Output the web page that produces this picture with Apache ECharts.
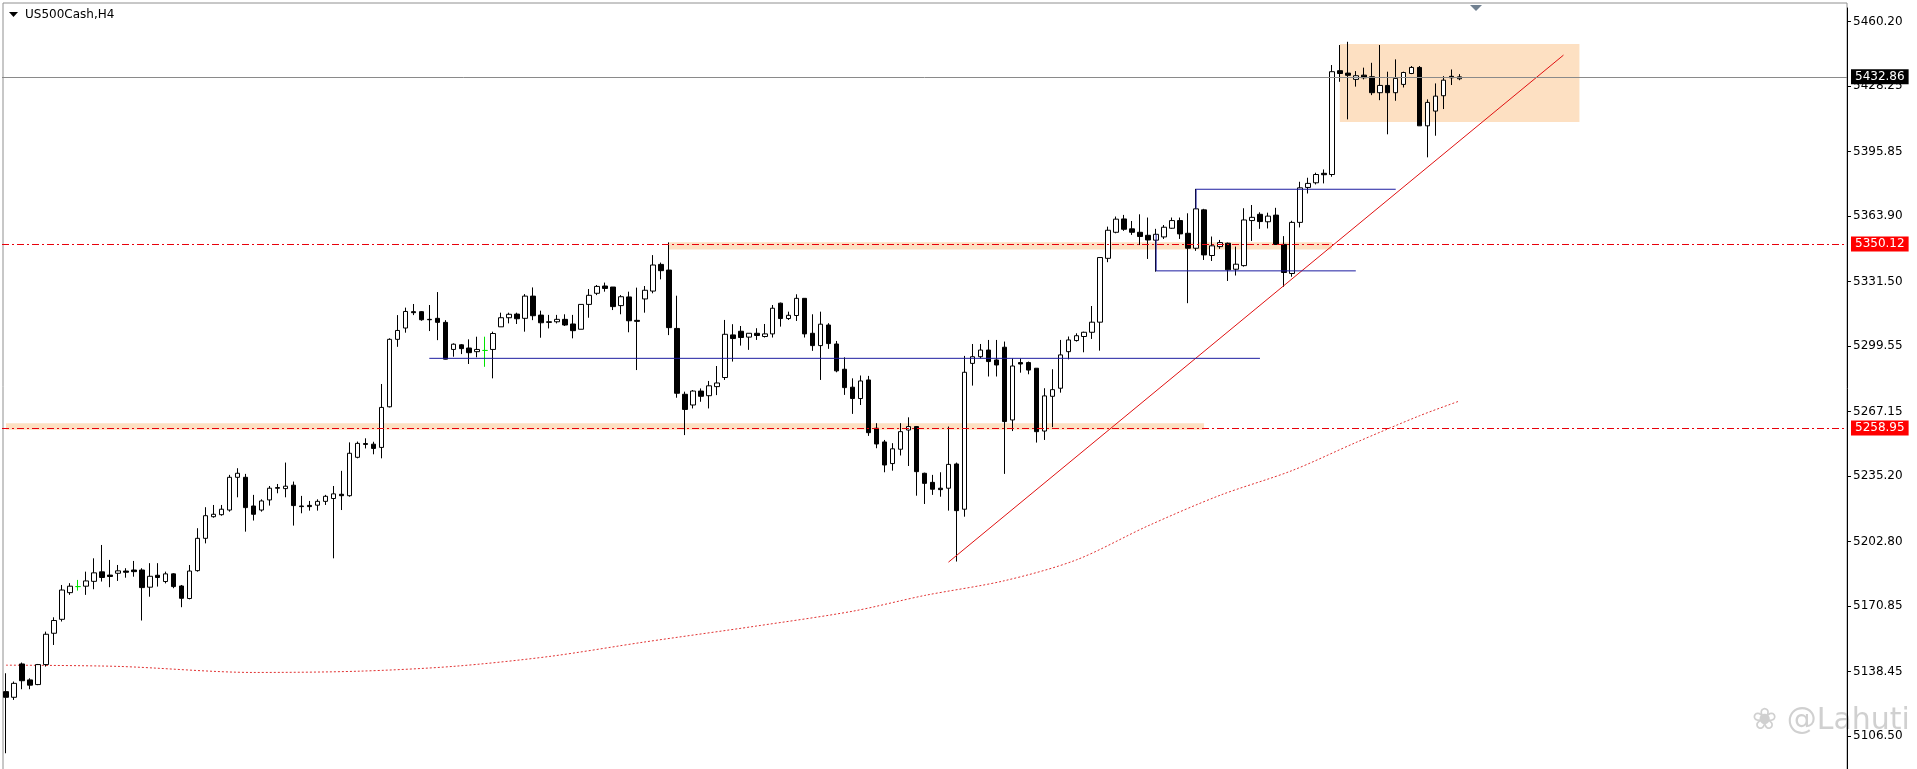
<!DOCTYPE html>
<html>
<head>
<meta charset="utf-8">
<script src="https://cdn.jsdelivr.net/npm/echarts@6/dist/echarts.min.js"></script>
<style>
  html, body { margin: 0; padding: 0; background: #fff; }
  #chart { width: 1917px; height: 769px; }
</style>
</head>
<body>
<div id="chart"></div>
<script>
// H4 candles, each row: [open, close, low, high]
const candles = [
  [5128.5,5125.7,5098.0,5137.6],[5125.7,5132.6,5124.4,5133.5],[5142.2,5133.9,5129.7,5142.9],[5134.3,5131.7,5129.7,5135.1],
  [5132.0,5141.9,5131.7,5142.2],[5141.9,5156.9,5140.9,5158.2],[5157.4,5163.7,5151.6,5165.3],[5164.3,5178.8,5163.2,5181.3],
  [5177.5,5180.7,5176.4,5182.2],[5180.5,5180.5,5178.5,5183.8],[5180.7,5183.3,5176.4,5187.9],[5183.1,5187.3,5179.2,5194.5],
  [5187.8,5185.0,5183.0,5201.1],[5186.2,5185.5,5180.2,5193.7],[5187.1,5188.3,5183.3,5191.2],[5188.2,5187.6,5184.9,5189.6],
  [5188.7,5187.9,5185.4,5193.2],[5188.7,5180.0,5163.7,5189.6],[5180.2,5185.6,5175.5,5192.1],[5186.1,5185.0,5180.5,5192.1],
  [5183.0,5186.8,5182.1,5187.9],[5186.8,5180.5,5179.7,5187.1],[5180.8,5174.7,5170.3,5181.3],[5174.6,5188.2,5174.2,5191.2],
  [5188.4,5204.4,5187.9,5209.4],[5204.4,5215.6,5201.9,5219.8],[5215.1,5216.3,5214.6,5220.9],[5216.1,5218.8,5215.6,5220.9],
  [5218.4,5234.6,5217.6,5235.8],[5234.6,5236.6,5224.7,5239.1],[5234.6,5219.6,5207.7,5236.3],[5220.4,5216.3,5213.2,5225.9],
  [5218.4,5222.9,5217.6,5223.7],[5223.4,5229.2,5220.6,5230.3],[5229.5,5229.2,5226.7,5231.3],[5229.0,5230.2,5224.7,5241.9],
  [5230.7,5220.6,5210.7,5232.5],[5220.4,5220.1,5216.8,5225.4],[5220.7,5220.1,5218.1,5222.9],[5220.8,5222.7,5218.1,5223.7],
  [5222.7,5225.2,5220.9,5225.9],[5224.1,5226.4,5194.5,5230.3],[5226.2,5225.5,5218.4,5237.8],[5225.5,5246.5,5225.0,5251.9],
  [5244.5,5251.4,5244.0,5252.3],[5251.3,5250.9,5248.9,5253.9],[5251.0,5248.9,5246.0,5252.2],[5249.4,5269.2,5244.0,5280.8],
  [5269.5,5302.9,5269.2,5303.4],[5302.9,5307.3,5299.2,5314.9],[5308.5,5316.7,5306.2,5318.6],[5316.6,5316.1,5314.9,5320.4],
  [5316.6,5312.6,5312.1,5316.9],[5312.8,5312.6,5307.0,5319.9],[5313.3,5311.3,5302.5,5326.3],[5311.3,5293.1,5293.0,5312.4],
  [5297.9,5300.5,5294.3,5300.9],[5300.2,5298.3,5295.6,5300.6],[5298.6,5296.3,5290.7,5302.9],[5296.8,5297.9,5294.0,5304.2],
  [5297.4,5297.4,5289.3,5304.2],[5297.9,5305.8,5283.6,5306.7],[5309.1,5313.6,5309.1,5316.1],[5313.6,5315.3,5310.8,5316.1],
  [5315.4,5313.1,5310.5,5316.1],[5313.3,5324.3,5306.7,5325.3],[5324.3,5314.6,5312.4,5328.6],[5314.9,5311.1,5303.7,5317.1],
  [5311.6,5311.3,5308.3,5315.0],[5311.6,5312.8,5310.8,5315.0],[5312.8,5310.0,5309.5,5315.3],[5310.5,5307.2,5303.4,5315.0],
  [5307.9,5320.2,5307.9,5320.2],[5320.2,5324.7,5313.6,5327.8],[5325.7,5329.1,5324.8,5329.8],[5329.3,5328.1,5326.5,5331.0],
  [5328.8,5319.1,5317.4,5328.8],[5319.6,5324.0,5315.3,5324.8],[5323.9,5312.1,5306.4,5326.5],[5312.3,5311.8,5287.7,5328.5],
  [5322.9,5327.2,5316.1,5329.3],[5326.8,5339.7,5325.7,5344.6],[5340.0,5336.9,5332.6,5340.9],[5337.2,5308.7,5305.0,5350.9],
  [5308.3,5276.2,5274.0,5324.5],[5275.7,5268.2,5255.5,5277.0],[5270.4,5277.3,5268.7,5277.8],[5277.3,5274.7,5272.0,5278.6],
  [5275.0,5279.9,5268.7,5282.3],[5279.5,5281.3,5275.3,5289.7],[5284.0,5305.4,5282.8,5312.5],[5305.1,5303.3,5291.9,5310.4],
  [5306.9,5303.8,5299.8,5309.5],[5304.0,5305.9,5297.7,5305.9],[5305.9,5304.8,5302.6,5308.4],[5304.3,5305.6,5303.8,5310.5],
  [5305.6,5318.3,5303.8,5319.9],[5320.8,5313.2,5309.2,5321.1],[5313.2,5314.8,5312.5,5316.6],[5314.7,5323.2,5312.0,5325.2],
  [5323.2,5305.6,5303.8,5323.2],[5305.9,5299.8,5297.2,5315.3],[5299.8,5310.4,5282.8,5316.6],[5310.0,5300.8,5298.2,5310.9],
  [5300.6,5287.3,5286.6,5302.1],[5288.1,5279.0,5275.4,5294.0],[5279.2,5273.6,5266.0,5283.6],[5273.6,5282.3,5270.4,5285.0],
  [5282.8,5256.7,5255.1,5284.8],[5258.9,5251.1,5249.0,5261.4],[5252.1,5240.7,5237.1,5253.1],[5241.4,5248.7,5237.9,5251.5],
  [5248.5,5257.2,5245.4,5261.4],[5258.0,5259.7,5240.2,5264.3],[5259.7,5237.4,5225.5,5260.0],[5236.6,5231.6,5221.4,5236.9],
  [5232.1,5228.7,5225.9,5235.8],[5229.2,5228.5,5225.0,5237.1],[5229.2,5241.0,5218.1,5259.7],[5241.2,5218.1,5192.9,5241.9],
  [5218.8,5286.6,5215.1,5294.7],[5291.0,5294.3,5280.0,5300.6],[5294.3,5297.6,5293.5,5300.6],[5297.6,5291.9,5284.5,5302.6],
  [5292.7,5290.2,5284.5,5302.6],[5299.0,5262.2,5236.3,5301.8],[5263.0,5289.7,5257.5,5293.5],[5291.4,5290.7,5286.4,5293.5],
  [5291.4,5287.7,5285.6,5291.9],[5288.6,5257.2,5251.8,5288.6],[5257.5,5274.9,5253.1,5278.7],[5274.7,5278.0,5259.4,5288.1],
  [5278.7,5295.2,5276.5,5302.6],[5296.8,5302.6,5293.0,5304.3],[5302.3,5304.7,5301.8,5305.9],[5304.3,5306.4,5296.5,5306.7],
  [5306.4,5311.4,5303.1,5319.4],[5311.4,5343.4,5297.3,5343.4],[5343.0,5356.9,5341.1,5358.7],[5355.9,5362.4,5355.4,5363.7],
  [5362.5,5357.4,5356.6,5364.5],[5357.6,5355.9,5354.6,5361.5],[5355.9,5353.8,5349.6,5364.8],[5354.4,5352.1,5342.7,5363.2],
  [5352.0,5354.9,5336.4,5357.6],[5353.6,5358.4,5352.6,5359.5],[5357.9,5361.7,5357.6,5363.2],[5361.7,5355.1,5352.6,5363.2],
  [5355.4,5348.0,5320.8,5365.3],[5348.0,5367.5,5346.7,5377.4],[5367.0,5344.7,5342.2,5367.5],[5344.4,5349.2,5341.7,5353.8],
  [5348.8,5350.8,5347.7,5352.1],[5350.5,5337.3,5331.8,5350.8],[5337.6,5340.1,5334.5,5348.8],[5339.4,5362.0,5338.9,5367.8],
  [5361.7,5363.3,5351.6,5369.4],[5364.8,5361.2,5357.6,5365.8],[5361.1,5363.9,5357.8,5365.6],[5364.4,5349.9,5349.6,5368.0],
  [5349.9,5336.0,5328.9,5354.0],[5335.5,5360.8,5333.9,5361.6],[5360.8,5377.9,5358.3,5380.9],[5378.1,5380.1,5375.1,5382.9],
  [5380.4,5384.5,5379.6,5385.4],[5385.1,5384.4,5380.1,5387.0],[5384.5,5435.4,5383.4,5438.7],[5435.9,5434.5,5430.4,5448.6],
  [5434.7,5433.6,5411.8,5450.2],[5431.6,5433.4,5428.0,5435.7],[5433.7,5432.4,5431.6,5437.4],[5432.9,5425.0,5423.8,5439.8],
  [5425.0,5428.6,5421.3,5448.6],[5428.6,5425.0,5404.4,5435.4],[5425.0,5432.1,5421.0,5441.5],[5429.1,5435.0,5427.6,5435.4],
  [5434.5,5437.5,5434.2,5438.2],[5437.5,5408.6,5408.6,5438.2],[5408.6,5420.2,5393.0,5421.7],[5415.9,5423.3,5403.7,5429.6],
  [5423.5,5431.2,5416.9,5433.2],[5433.1,5432.4,5428.8,5436.5],[5431.9,5432.86,5431.2,5434.2]
];
const greenBars = [9, 60];
const slotCount = 231;

// dotted moving average, [bar index, value]
const maPoints = [
  [0,5141.6],[14,5141.0],[31,5138.0],[44,5138.6],[56,5141.0],[68,5145.9],[80,5153.1],[94,5161.0],
  [106,5168.3],[115,5176.1],[125,5183.4],[134,5193.7],[143,5210.6],[152,5225.7],[161,5237.9],[169,5251.8],
  [176.5,5265.1],[181.6,5272.4]
];

// drawn objects, [bar index, price]
const trendLine = [[118.3,5192.6],[194.9,5443.6]];
const blueMid = [[53,5293.5],[156.6,5293.5]];
const blueUpper = [[148.9,5367.5],[148.9,5377.2],[173.9,5377.2]];
const blueLower = [[143.9,5354.9],[143.9,5336.8],[168.9,5336.8]];
const zones = [
  [[83,5351.0],[166,5347.4]],
  [[-1,5261.4],[149.6,5258.2]],
  [[166.9,5449.1],[196.9,5410.5]]
];

const lastPrice = 5432.86;
const levels = [5350.12, 5258.95];
const yMin = 5090.2, yMax = 5466.93;
const tickLabels = [5460.20,5428.25,5395.85,5363.90,5331.50,5299.55,5267.15,5235.20,5202.80,5170.85,5138.45,5106.50];

const categories = Array.from({ length: slotCount }, (_, i) => String(i));
const candleData = candles.map((r, i) => {
  const item = { value: r };
  if (greenBars.includes(i)) item.itemStyle = { color: '#00e400', color0: '#00e400', borderColor: '#00e400', borderColor0: '#00e400' };
  return item;
});

const font = 'DejaVu Sans';
const chart = echarts.init(document.getElementById('chart'));

const levelLines = levels.map((v) => ({
  yAxis: v,
  lineStyle: { color: '#e8000b', type: [7, 3, 2, 3], width: 1 },
  label: { show: true, position: 'end', formatter: v.toFixed(2), backgroundColor: '#ff0000',
    color: '#fff', fontFamily: font, fontSize: 12, padding: [2, 4, 1, 4], distance: 4 },
}));

const lineSeries = (data, color, extra) => Object.assign({
  type: 'line', data, symbol: 'none', silent: true, animation: false, z: 4,
  lineStyle: { color, width: 1 },
}, extra || {});

chart.setOption({
  animation: false,
  grid: { left: 2, right: 70, top: 8, bottom: 0 },
  xAxis: { type: 'category', data: categories, show: false, boundaryGap: true },
  yAxis: {
    type: 'value', position: 'right', min: yMin, max: yMax, scale: true,
    splitLine: { show: false },
    axisLine: { show: true, lineStyle: { color: '#000' } },
    axisTick: { show: true, length: 4, customValues: tickLabels, lineStyle: { color: '#000' } },
    axisLabel: { customValues: tickLabels, formatter: (v) => v.toFixed(2), color: '#000',
      fontFamily: font, fontSize: 12, margin: 6 },
  },
  series: [
    {
      type: 'line', data: [], z: 1,
      markArea: {
        silent: true,
        itemStyle: { color: '#fde0c2' },
        data: zones.map((z) => [{ coord: z[0] }, { coord: z[1] }]),
      },
    },
    lineSeries(maPoints, '#e03030', { smooth: 0.3, lineStyle: { color: '#e03030', width: 1, type: [2, 2] }, z: 2 }),
    {
      type: 'candlestick', data: candleData, barWidth: 5, z: 3,
      itemStyle: { color: '#fff', color0: '#000', borderColor: '#000', borderColor0: '#000', borderWidth: 1 },
      markLine: {
        silent: true, symbol: 'none', animation: false,
        data: [
          { yAxis: lastPrice, lineStyle: { color: '#8a8a8a', type: 'solid', width: 1 },
            label: { show: true, position: 'end', formatter: lastPrice.toFixed(2), backgroundColor: '#000',
              color: '#fff', fontFamily: font, fontSize: 12, padding: [2, 4, 1, 4], distance: 4 } },
          ...levelLines,
        ],
      },
    },
    lineSeries(trendLine, '#e01010'),
    lineSeries(blueMid, '#1c1ca0'),
    lineSeries(blueUpper, '#1c1ca0'),
    lineSeries(blueLower, '#1c1ca0'),
  ],
  graphic: [
    { type: 'rect', shape: { x: 3, y: 3, width: 1844, height: 770 }, style: { fill: 'none', stroke: '#909090', lineWidth: 1 }, silent: true },
    { type: 'polygon', shape: { points: [[9, 12], [18, 12], [13.5, 17]] }, style: { fill: '#000' } },
    { type: 'text', left: 25, top: 9, style: { text: 'US500Cash,H4', fill: '#000', font: '12px ' + font } },
    { type: 'polygon', shape: { points: [[1470, 5], [1482, 5], [1476, 11]] }, style: { fill: '#708090' } },
    { type: 'text', left: 1752, top: 706, style: { text: '\u2740 @Lahuti', fill: 'rgba(150,150,150,0.45)', font: '30px ' + font } },
  ],
});
</script>
</body>
</html>
